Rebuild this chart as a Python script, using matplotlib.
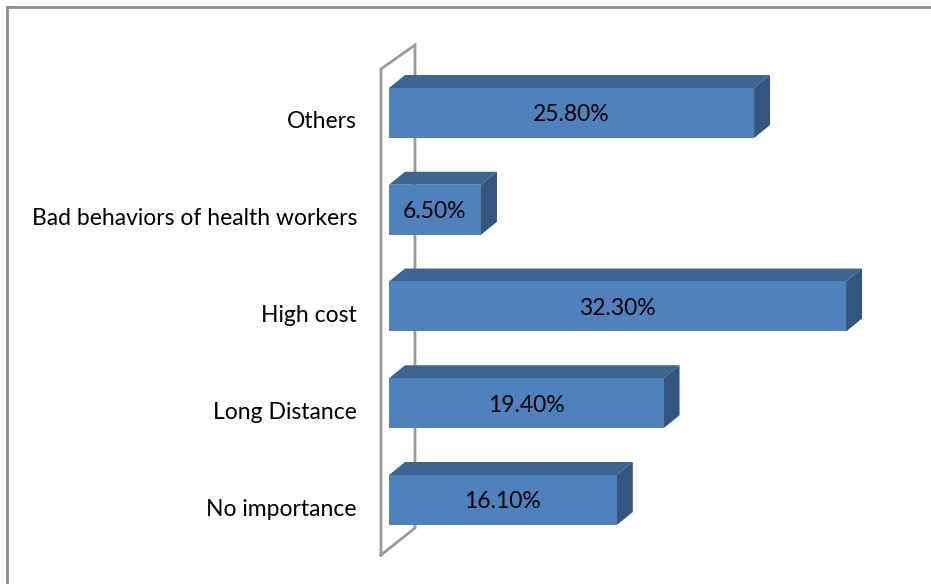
import numpy as np
import matplotlib.pyplot as plt
from matplotlib.patches import Polygon
from matplotlib.lines import Line2D

# Données (de bas en haut)
categories = ["No importance", "Long Distance", "High cost",
              "Bad behaviors of health workers", "Others"]
values = [16.1, 19.4, 32.3, 6.5, 25.8]
labels = ["16.10%", "19.40%", "32.30%", "6.50%", "25.80%"]

front_col = "#4F81BD"
top_col = "#3E6492"
side_col = "#34557F"
wall_col = "#9B9B9B"

plt.rcParams["font.family"] = ["Lato", "DejaVu Sans"]

W, H = 931, 584
fig = plt.figure(figsize=(W / 100, H / 100), dpi=100)

# axes placé en pixels
L, R, T, B = 370, 925, 35, 575
ax = fig.add_axes([L / W, (H - B) / H, (R - L) / W, (B - T) / H])
px_x = 14.15     # pixels par %
px_y = 96.75     # pixels par catégorie
x0_px, y0_px = 389, 500
ax.set_xlim(-(x0_px - L) / px_x, (R - x0_px) / px_x)
ax.set_ylim(-(B - y0_px) / px_y, (y0_px - T) / px_y)
ax.axis("off")

bar_h = 50 / px_y
dx = 16 / px_x
dy = 13 / px_y

# mur du fond (gris)
def px2data(xp, yp):
    return ax.transData.inverted().transform(fig.transFigure.transform((xp / W, 1 - yp / H)))

wall = [(381, 555), (381, 69), (415, 45), (415, 528), (381, 555)]
wd = np.array([px2data(*p) for p in wall])
ax.plot(wd[:, 0], wd[:, 1], color=wall_col, lw=2, zorder=1, solid_joinstyle="miter")

fs = 16.5
lab_shift = 7 / px_y   # les étiquettes de catégorie sont un peu plus bas (perspective)
xl, _ = px2data(357, 0)

ypos = np.arange(len(categories))
ax.barh(ypos, values, height=bar_h, color=front_col, zorder=3)
for y, v, lab, cat in zip(ypos, values, labels, categories):
    top = y + bar_h / 2
    bot = y - bar_h / 2
    ax.add_patch(Polygon([(0, top), (dx, top + dy), (v + dx, top + dy), (v, top)],
                         closed=True, facecolor=top_col, edgecolor="none", zorder=2))
    ax.add_patch(Polygon([(v, top), (v + dx, top + dy), (v + dx, bot + dy), (v, bot)],
                         closed=True, facecolor=side_col, edgecolor="none", zorder=2))
    ax.text(v / 2, y, lab, ha="center", va="center_baseline", fontsize=fs,
            color="black", zorder=4)
    ax.text(xl, y - lab_shift, cat, ha="right", va="center_baseline",
            fontsize=fs, color="black")

# cadre
fig.add_artist(Line2D([7 / W, 7 / W], [0, 1 - 7 / H], color="#8C8C8C", lw=2))
fig.add_artist(Line2D([7 / W, 1], [1 - 7 / H, 1 - 7 / H], color="#8C8C8C", lw=2))

fig.savefig("out.png", dpi=100, facecolor="white")
